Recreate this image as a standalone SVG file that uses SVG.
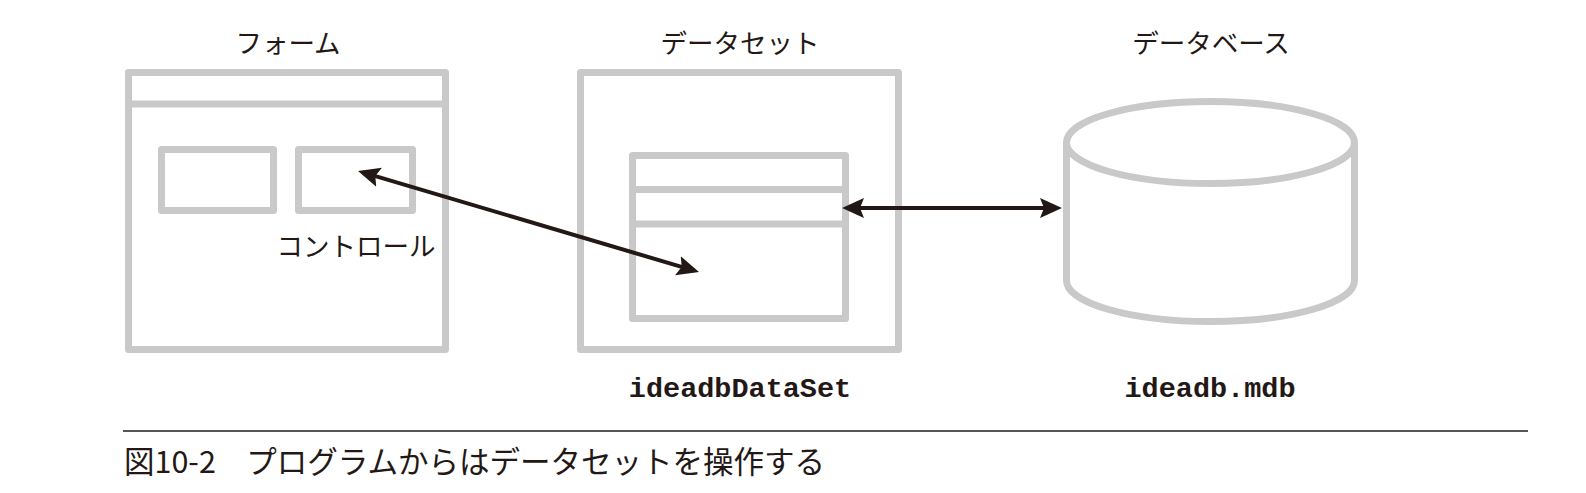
<svg xmlns="http://www.w3.org/2000/svg" width="1586" height="493" viewBox="0 0 1586 493">
<style>
.box{fill:#ffffff;stroke:#c9c9c9;stroke-width:7;stroke-linejoin:round}
.div{stroke:#c9c9c9;stroke-width:7;fill:none}
.jp{font-family:"Noto Sans CJK JP","Noto Sans CJK SC",sans-serif;font-size:26.5px;fill:#231815;text-anchor:middle}
.mono{font-family:"Liberation Mono","DejaVu Sans Mono",monospace;font-weight:bold;font-size:28.5px;fill:#231815;text-anchor:middle}
.conn{stroke:#231815;stroke-width:4;fill:none}
.cap{font-family:"Noto Sans CJK JP","Noto Sans CJK SC",sans-serif;font-size:30.5px;fill:#231815}
</style>
<defs>
<marker id="ah" viewBox="0 0 22 22" refX="17" refY="11" markerWidth="22" markerHeight="22" markerUnits="userSpaceOnUse" orient="auto-start-reverse">
<path d="M0,1 L22,11 L0,21 L4,11 Z" fill="#231815"/>
</marker>
</defs>
<rect width="1586" height="493" fill="#ffffff"/>
<g id="form">
<rect class="box" x="128.5" y="72.5" width="317" height="277"/>
<line class="div" x1="128.5" y1="104" x2="445.5" y2="104"/>
<rect class="box" x="161.5" y="149.5" width="112" height="61"/>
<rect id="control" class="box" x="298.5" y="149.5" width="114" height="61"/>
<text class="jp" x="288" y="53">フォーム</text>
<text class="jp" x="356" y="256">コントロール</text>
</g>
<g id="dataset">
<rect class="box" x="580.5" y="72.5" width="318" height="277"/>
<rect class="box" x="632.5" y="155.5" width="213" height="163"/>
<line class="div" x1="632.5" y1="189.5" x2="845.5" y2="189.5"/>
<line class="div" x1="632.5" y1="224" x2="845.5" y2="224"/>
<text class="jp" x="740" y="53">データセット</text>
<text class="mono" x="740" y="397">ideadbDataSet</text>
</g>
<g id="database">
<path class="box" d="M1066.5,142.5 L1066.5,280.5 A144,41 0 0 0 1354.5,280.5 L1354.5,142.5"/>
<ellipse class="box" cx="1210.5" cy="142.5" rx="144" ry="41"/>
<text class="jp" x="1211" y="53">データベース</text>
<text class="mono" x="1210" y="397">ideadb.mdb</text>
</g>
<g id="connectors">
<line class="conn" x1="362.8" y1="172.4" x2="694.2" y2="270.6" marker-start="url(#ah)" marker-end="url(#ah)"/>
<line class="conn" x1="847" y1="208" x2="1057" y2="208" marker-start="url(#ah)" marker-end="url(#ah)"/>
</g>
<g id="caption">
<line x1="123" y1="431" x2="1528" y2="431" stroke="#555555" stroke-width="2"/>
<text class="cap" x="124" y="473">図10-2　プログラムからはデータセットを操作する</text>
</g>
</svg>
